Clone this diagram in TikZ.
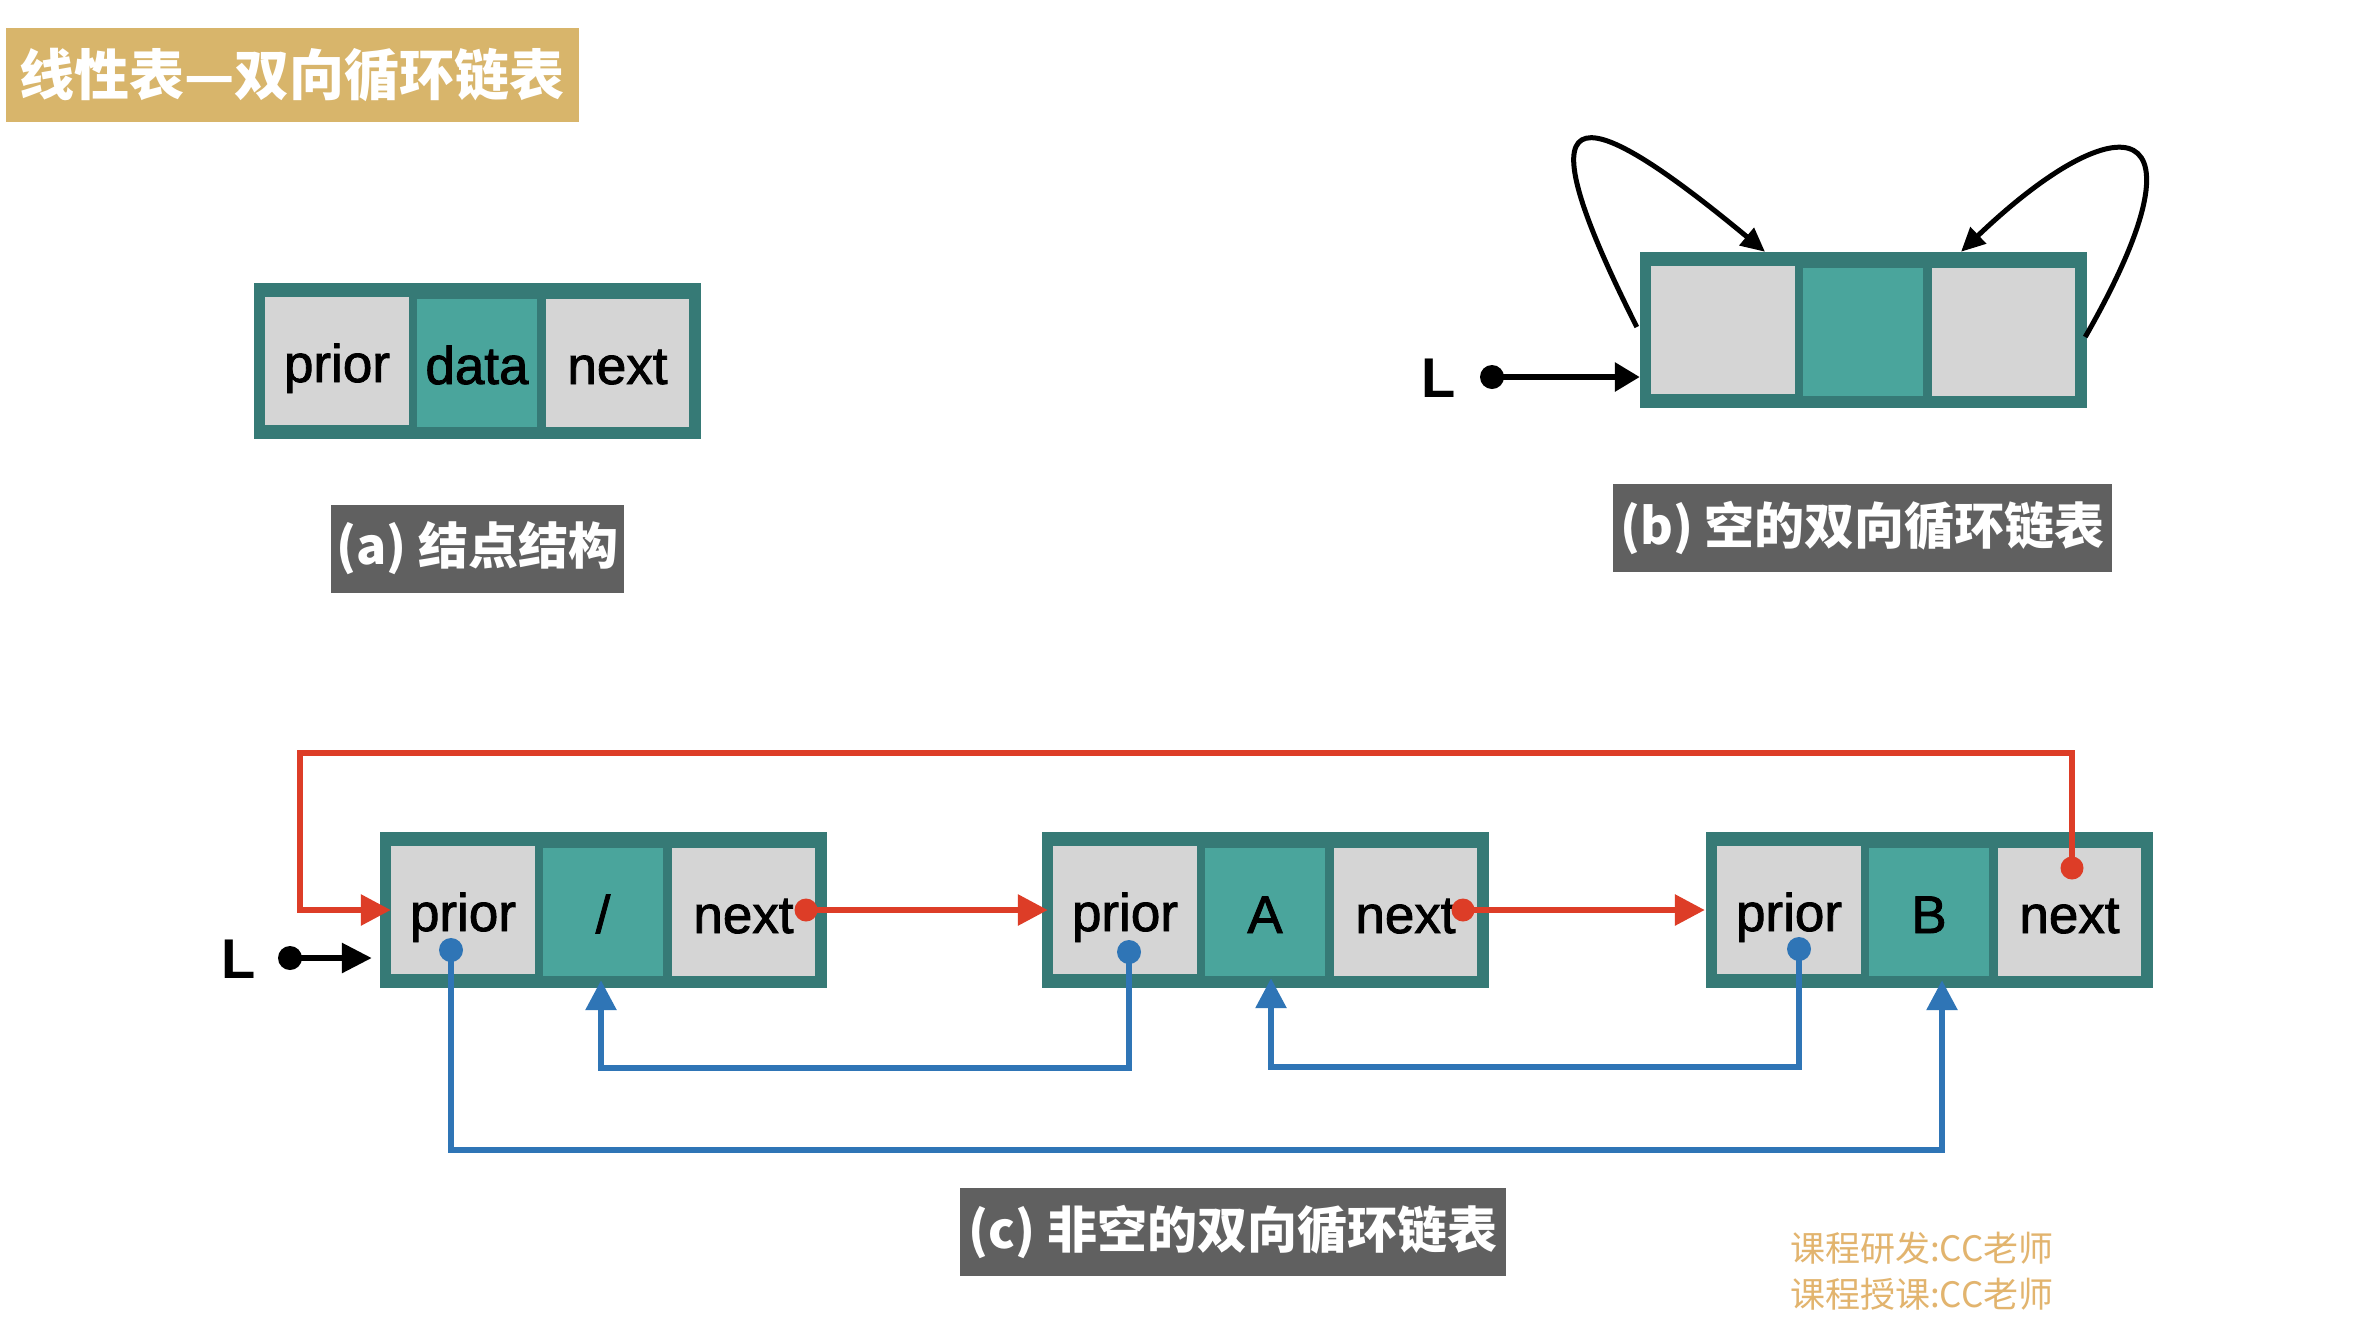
\documentclass[tikz,border=0pt]{standalone}
\usepackage{fontspec}
\setmainfont{Liberation Sans}
\newfontfamily\cjk{Noto Sans CJK SC}
\newfontfamily\cellfam[FakeBold=1.6]{Liberation Sans}
\usetikzlibrary{arrows.meta,calc}
\definecolor{tealdark}{HTML}{367A76}
\definecolor{tealmid}{HTML}{4AA59C}
\definecolor{cellgray}{HTML}{D5D5D5}
\definecolor{myred}{HTML}{DD3D27}
\definecolor{myblue}{HTML}{2F75B6}
\definecolor{capgray}{HTML}{606060}
\definecolor{goldbox}{HTML}{D8B56B}
\definecolor{creditcol}{HTML}{E2B46E}
\newcommand\cellfont{\cellfam\fontsize{53pt}{60pt}\selectfont}
\newcommand\dlnode[6]{%
  \node[outerbox] (#1) at (#2+223.5,#3+78) {};
  \node[graycell, minimum width=144pt] (#1p) at (#2+83,#3+78) {#4};
  \node[tealcell, minimum width=120pt] (#1d) at (#2+223,#3+80) {#5};
  \node[graycell, minimum width=143pt] (#1n) at (#2+363.5,#3+80) {#6};
}
\begin{document}
\begin{tikzpicture}[x=1pt,y=-1pt,
  outerbox/.style={fill=tealdark, minimum width=447pt, minimum height=156pt, inner sep=0pt},
  graycell/.style={fill=cellgray, minimum height=128pt, inner sep=0pt, text height=42pt, text depth=0pt, font=\cellfont},
  tealcell/.style={fill=tealmid, minimum height=128pt, inner sep=0pt, text height=42pt, text depth=0pt, font=\cellfont},
  capbox/.style={fill=capgray, text=white, minimum height=88pt, inner sep=0pt, font=\cjk\bfseries\fontsize{50pt}{56pt}\selectfont},
  titlebox/.style={fill=goldbox, text=white, minimum width=573pt, minimum height=94pt, inner sep=0pt, font=\cjk\bfseries\fontsize{55pt}{60pt}\selectfont},
  credit/.style={text=creditcol, inner sep=0pt, anchor=base west, font=\cjk\fontsize{35pt}{40pt}\selectfont},
  Llabel/.style={inner sep=0pt, anchor=base west, font=\bfseries\fontsize{56pt}{60pt}\selectfont},
  redline/.style={draw=myred, line width=6pt},
  blueline/.style={draw=myblue, line width=6pt},
  blackline/.style={draw=black, line width=6pt},
  loopline/.style={draw=black, line width=5pt, -{Triangle[length=24pt,width=22pt]}},
  bigtip/.style={-{Triangle[length=30pt,width=30pt]}},
  reddot/.style={circle, fill=myred, minimum size=23pt, inner sep=0pt},
  bluedot/.style={circle, fill=myblue, minimum size=24pt, inner sep=0pt},
  blackdot/.style={circle, fill=black, minimum size=24pt, inner sep=0pt}
]
\fill[white] (0,0) rectangle (2360,1318);
\useasboundingbox (0,0) rectangle (2360,1318);

% title
\node[titlebox] (title) at (292,75) {线性表—双向循环链表};

% (a) node structure
\dlnode{na}{254}{283}{prior}{data}{next}
\node[capbox, minimum width=293pt] (capa) at (477.5,548.5) {(a) 结点结构};

% (b) empty list
\dlnode{nb}{1640}{252}{}{}{}
\draw[loopline] ($(nb.west)+(-3,-3)$) .. controls (1520,95) and (1570,90) .. ($(nb.north)+(-98.5,0)$);
\draw[loopline] ($(nb.east)+(-2,7)$) .. controls (2215,110) and (2120,100) .. ($(nb.north)+(97.5,0)$);
\node[Llabel] (Lb) at (1421,397) {L};
\node[blackdot] (Lbdot) at (1492,377) {};
\draw[blackline, -{Triangle[length=25pt,width=28pt]}] (Lbdot.center) -- ($(nb.west)+(0,47)$);
\node[capbox, minimum width=499pt] (capb) at (1862.5,528) {(b) 空的双向循环链表};

% (c) non-empty list
\dlnode{n1}{380}{832}{prior}{/}{next}
\dlnode{nA}{1042}{832}{prior}{A}{next}
\dlnode{nB}{1706}{832}{prior}{B}{next}

\node[Llabel] (Lc) at (221,978) {L};
\node[blackdot] (Lcdot) at (290,958) {};
\draw[blackline, -{Triangle[length=30pt,width=29pt]}] (Lcdot.center) -- ($(n1.west)+(-8,48)$);

% red next links
\node[reddot] (r1) at (806,910) {};
\node[reddot] (rA) at (1463,910) {};
\node[reddot] (rB) at (2072,868) {};
\draw[redline, bigtip] (r1.center) -- ($(nAp.west)+(-5,0)$);
\draw[redline, bigtip] (rA.center) -- ($(nBp.west)+(-12,0)$);
\draw[redline, bigtip] (rB.center) |- ($(n1p.west)+(-91,-157)$) |- (n1p.west);

% blue prior links
\node[bluedot] (b1) at (451,950) {};
\node[bluedot] (bA) at (1129,952) {};
\node[bluedot] (bB) at (1799,949) {};
\draw[blueline, bigtip] (b1.center) -- ++(0,200) -| ($(nBd.south)+(13,4)$);
\draw[blueline, bigtip] (bA.center) -- ++(0,116) -| ($(n1d.south)+(-2,4)$);
\draw[blueline, bigtip] (bB.center) -- ++(0,118) -| ($(nAd.south)+(6,2)$);

\node[capbox, minimum width=546pt] (capc) at (1233,1232) {(c) 非空的双向循环链表};

% credits
\node[credit] (cr1) at (1790,1261) {课程研发:CC老师};
\node[credit] (cr2) at (1790,1307) {课程授课:CC老师};
\end{tikzpicture}
\end{document}
